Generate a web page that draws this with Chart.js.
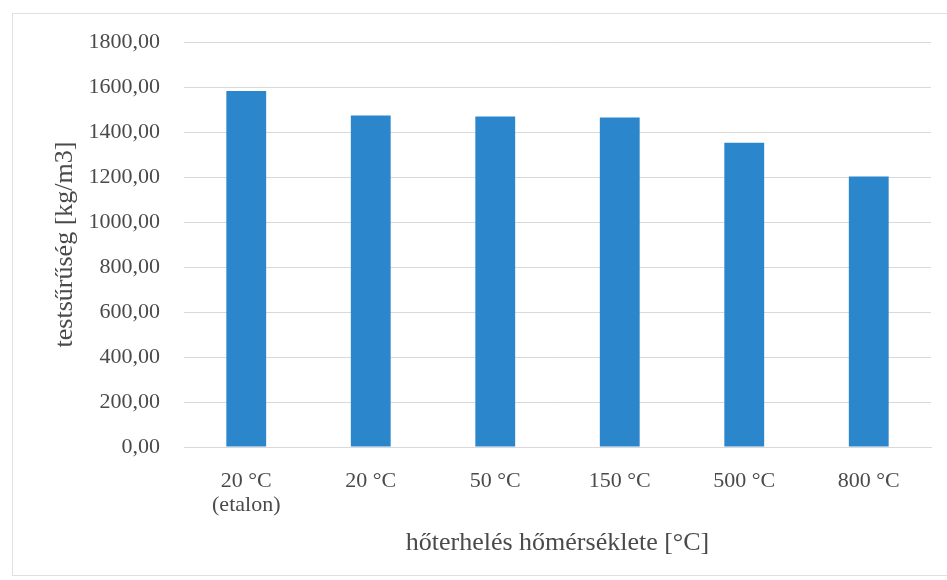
<!DOCTYPE html>
<html>
<head>
<meta charset="utf-8">
<script src="https://cdn.jsdelivr.net/npm/chart.js@4/dist/chart.umd.min.js"></script>
<style>
  html, body { margin: 0; padding: 0; background: #ffffff; }
  #wrap { width: 947px; height: 580px; position: relative; }
</style>
</head>
<body>
<div id="wrap"><canvas id="c" width="947" height="580"></canvas></div>
<script>
// Bulk density of specimens after heat load
const categories = [['20 °C', '(etalon)'], '20 °C', '50 °C', '150 °C', '500 °C', '800 °C'];
const densities = [1582, 1473, 1469, 1464, 1352, 1202];
const yTicks = [0, 200, 400, 600, 800, 1000, 1200, 1400, 1600, 1800];

const textColor = '#4a4a4a';
const gridColor = '#d9d9d9';
const serif = "'Liberation Serif', 'DejaVu Serif', serif";

// thin frame around the whole chart
const framePlugin = {
  id: 'frame',
  beforeDraw(chart) {
    const ctx = chart.ctx;
    ctx.save();
    ctx.fillStyle = '#ffffff';
    ctx.fillRect(0, 0, chart.width, chart.height);
    ctx.strokeStyle = '#e0e0e0';
    ctx.lineWidth = 1;
    ctx.strokeRect(12.5, 13.5, 950, 562);
    ctx.restore();
  }
};

new Chart(document.getElementById('c'), {
  type: 'bar',
  data: {
    labels: categories,
    datasets: [{
      data: densities,
      backgroundColor: '#2b86cb',
      borderWidth: 0,
      barPercentage: 0.64,
      categoryPercentage: 0.5
    }]
  },
  options: {
    responsive: false,
    animation: false,
    devicePixelRatio: 1,
    layout: { padding: { left: 40, right: 16, top: 42, bottom: 15 } },
    plugins: {
      legend: { display: false },
      tooltip: { enabled: false }
    },
    scales: {
      x: {
        grid: { display: false, drawTicks: false },
        border: { display: true, color: gridColor, width: 1 },
        ticks: {
          color: textColor,
          font: { family: serif, size: 22, lineHeight: 1.1 },
          padding: 22,
          maxRotation: 0,
          autoSkip: false
        },
        title: {
          display: true,
          text: 'hőterhelés hőmérséklete [°C]',
          color: textColor,
          font: { family: serif, size: 26, lineHeight: 1.1 },
          padding: { top: 0, bottom: 8 }
        },
        afterFit(scale) { scale.height = 580 - 447 - 15; }
      },
      y: {
        min: 0,
        max: 1800,
        grid: { color: gridColor, lineWidth: 1, drawTicks: false },
        border: { display: false },
        afterBuildTicks(scale) { scale.ticks = yTicks.map(v => ({ value: v })); },
        ticks: {
          color: textColor,
          font: { family: serif, size: 22 },
          padding: 24,
          callback: (v) => v.toFixed(2).replace('.', ',')
        },
        title: {
          display: true,
          text: 'testsűrűség [kg/m3]',
          color: textColor,
          font: { family: serif, size: 26, lineHeight: 1.1 },
          padding: { top: 11, bottom: 0 }
        },
        afterFit(scale) { scale.width = 184 - 40; }
      }
    }
  },
  plugins: [framePlugin]
});
</script>
</body>
</html>
